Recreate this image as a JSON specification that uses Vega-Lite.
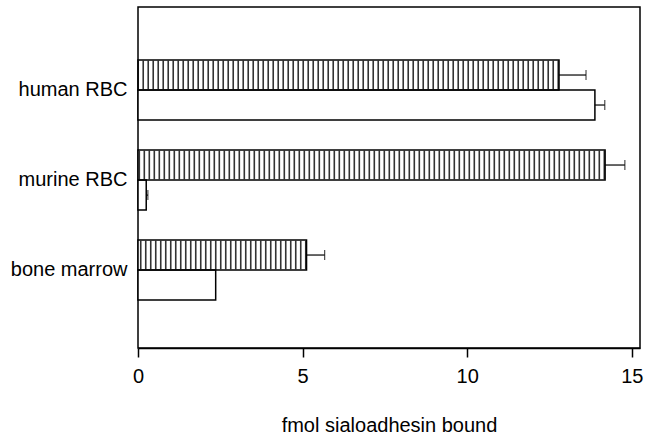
{
  "$schema": "https://vega.github.io/schema/vega-lite/v6.json",
  "width": 502,
  "height": 341,
  "autosize": "none",
  "padding": {"left": 138, "top": 7, "right": 13, "bottom": 90},
  "background": "white",
  "config": {
    "font": "Liberation Sans",
    "view": {"stroke": "black", "strokeWidth": 1.5},
    "axis": {"labelColor": "black", "titleColor": "black", "labelFont": "Liberation Sans", "titleFont": "Liberation Sans", "grid": false}
  },
  "data": {
    "values": [
      {"sample": "human RBC", "series": "hatched", "value": 12.79, "hi": 13.61},
      {"sample": "human RBC", "series": "open", "value": 13.88, "hi": 14.18},
      {"sample": "murine RBC", "series": "hatched", "value": 14.19, "hi": 14.79},
      {"sample": "murine RBC", "series": "open", "value": 0.25, "hi": 0.3},
      {"sample": "bone marrow", "series": "hatched", "value": 5.12, "hi": 5.67},
      {"sample": "bone marrow", "series": "open", "value": 2.36, "hi": null}
    ]
  },
  "encoding": {
    "y": {
      "field": "sample",
      "type": "nominal",
      "sort": ["human RBC", "murine RBC", "bone marrow"],
      "scale": {"paddingInner": 0.3333, "paddingOuter": 0.561, "align": 0.525},
      "axis": {"title": null, "ticks": false, "domain": false, "labelFontSize": 20, "labelPadding": 11}
    },
    "yOffset": {
      "field": "series",
      "type": "nominal",
      "sort": ["hatched", "open"],
      "scale": {"paddingInner": 0, "paddingOuter": 0}
    }
  },
  "layer": [
    {
      "mark": {"type": "bar", "strokeWidth": 0, "fill": "white"},
      "encoding": {
        "x": {
          "field": "value",
          "type": "quantitative",
          "scale": {"domain": [0, 15.25], "nice": false, "zero": true},
          "axis": {
            "values": [0, 5, 10, 15],
            "title": "fmol sialoadhesin bound",
            "titleFontSize": 20,
            "titleFontWeight": "normal",
            "titlePadding": 29,
            "labelFontSize": 20,
            "labelPadding": 9,
            "tickSize": 9,
            "tickColor": "black",
            "tickWidth": 1.5,
            "domainColor": "black",
            "domainWidth": 1.5,
            "labelFlush": false
          }
        }
      }
    },
    {
      "transform": [{"filter": "datum.series === 'hatched'"}],
      "mark": {"type": "rule", "color": "#333333", "strokeWidth": 28.5, "strokeDash": [1.6, 3.4], "strokeCap": "butt"},
      "encoding": {
        "x": {"field": "value", "type": "quantitative"},
        "x2": {"datum": 0}
      }
    },
    {
      "mark": {"type": "bar", "stroke": "black", "strokeWidth": 1.5, "fillOpacity": 0},
      "encoding": {
        "x": {"field": "value", "type": "quantitative"}
      }
    },
    {
      "mark": {"type": "rule", "color": "black", "strokeWidth": 1.2},
      "encoding": {
        "x": {"field": "value", "type": "quantitative"},
        "x2": {"field": "hi"}
      }
    },
    {
      "mark": {"type": "tick", "color": "black", "thickness": 1.2, "size": 10, "orient": "vertical"},
      "encoding": {
        "x": {"field": "hi", "type": "quantitative"}
      }
    }
  ]
}
